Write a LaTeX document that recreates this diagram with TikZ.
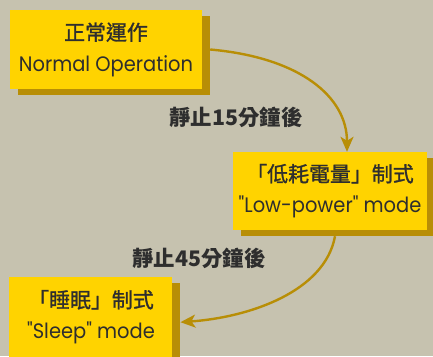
\documentclass[tikz,border=0pt]{standalone}
\usepackage{fontspec}
\setmainfont{Poppins}
\newfontfamily\cjk[FakeBold=1.3]{Noto Sans CJK TC}
\newfontfamily\cjkb{Noto Sans CJK TC}
\newfontfamily\lat[FakeStretch=0.93]{Poppins}
\usetikzlibrary{shadows,arrows.meta}
\definecolor{bg}{HTML}{C6C2AF}
\definecolor{boxy}{HTML}{FFD300}
\definecolor{shad}{HTML}{B88E06}
\definecolor{txt}{HTML}{2E2E2E}
\tikzset{
  state/.style={fill=boxy, text=txt, align=center, inner sep=0pt,
    drop shadow={shadow xshift=8bp, shadow yshift=-6bp, fill=shad, opacity=1},
    font=\fontsize{21}{31}\selectfont},
  arr/.style={draw=shad, line width=2.4bp, -{Stealth[length=15bp,width=13bp,inset=4bp]}},
  lbl/.style={text=txt, font=\cjkb\bfseries\fontsize{21.5}{25}\selectfont, inner sep=0pt}
}
\begin{document}
\begin{tikzpicture}[x=1bp,y=-1bp]
\fill[bg] (0,0) rectangle (433,356);
\useasboundingbox (0,0) rectangle (433,356);
\node[state, minimum width=192bp, minimum height=79bp] (n1) at (106,49.5)
  {{\cjk 正常運作}\\{\lat Normal Operation}};
\node[state, minimum width=194bp, minimum height=78bp] (n2) at (330,191)
  {{\cjk 「低耗電量」制式}\\{\lat "Low-power" mode}};
\node[state, minimum width=163bp, minimum height=84bp, anchor=north west] (n3) at (9,277) {};
\node[text=txt, align=center, inner sep=0pt, font=\fontsize{21}{31}\selectfont] (t3) at (91,317)
  {{\cjk 「睡眠」制式}\\{\lat "Sleep" mode}};
\draw[arr] ([xshift=8bp]n1.east) .. controls +(90,8) and +(0,-55) .. ([xshift=17bp]n2.north);
\draw[arr] ([xshift=5bp,yshift=-6bp]n2.south) .. controls +(-10,55) and +(70,-5) .. ([xshift=8bp,yshift=-3bp]n3.east);
\node[lbl] (l1) at (236,117) {靜止15分鐘後};
\node[lbl] (l2) at (199,258) {靜止45分鐘後};
\end{tikzpicture}
\end{document}
